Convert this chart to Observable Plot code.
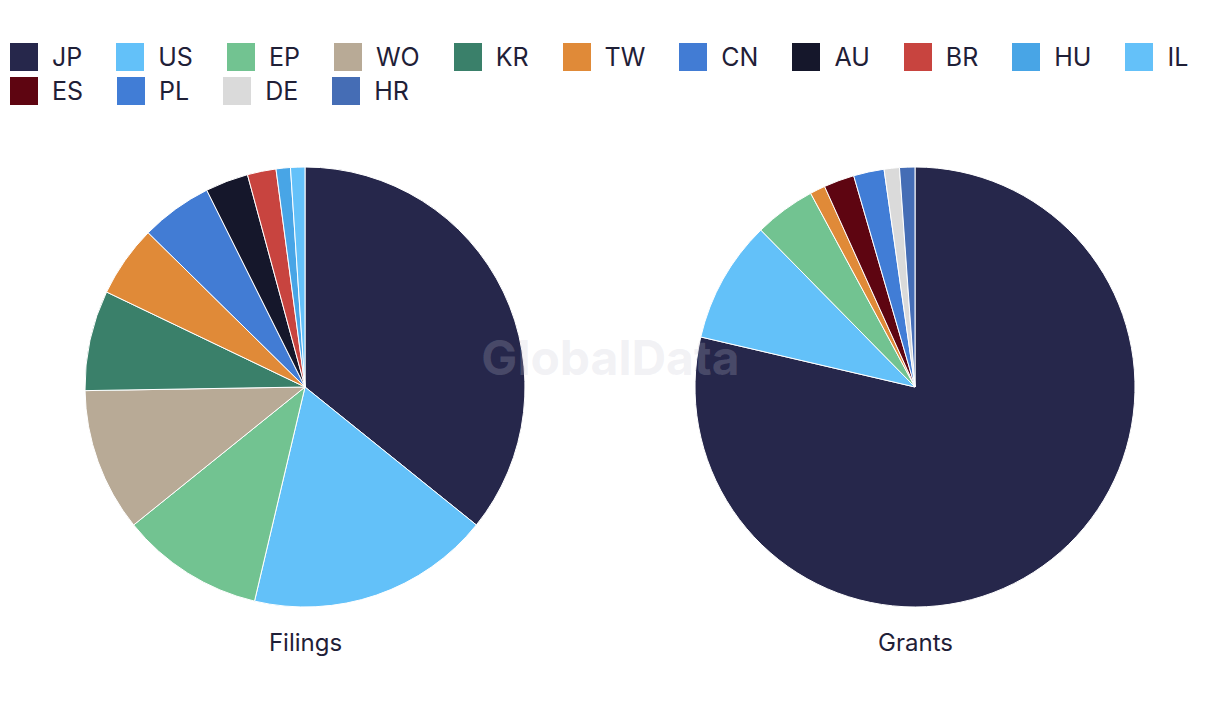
<!DOCTYPE html>
<html>
<head>
<meta charset="utf-8">
<script src="https://cdn.jsdelivr.net/npm/d3@7"></script>
<script src="https://cdn.jsdelivr.net/npm/@observablehq/plot@0.6"></script>
<style>
  body { margin: 0; background: #ffffff; font-family: Inter, "Noto Sans", sans-serif; }
  #legend { padding: 43px 0 0 10px; height: 67px; width: 1210px; overflow: hidden; }
  #legend .leg-swatches { margin: 0 !important; }
  #legend .leg-swatches-wrap { row-gap: 6px; column-gap: 34px; min-height: 0 !important; align-items: flex-start !important; }
  #legend .leg-swatches-wrap .leg-swatch { margin-right: 0 !important; height: 28px; line-height: 28px; }
  #legend .leg-swatch > svg { margin-right: 14px !important; }
</style>
</head>
<body>
<div id="legend"></div>
<div id="chart"></div>
<script>
// ---- data ----
const codes = ["JP","US","EP","WO","KR","TW","CN","AU","BR","HU","IL","ES","PL","DE","HR"];
const colors = ["#26274b","#63c1f9","#72c391","#b8aa96","#3a806a","#e08a38","#427cd4","#15172b","#c8443f","#48a5e6","#64c1f9","#5e0511","#417dd6","#dadada","#456db5"];
const panels = ["Filings","Grants"];
const filingCodes = ["JP","US","EP","WO","KR","TW","CN","AU","BR","HU","IL"];
const filingValues = [34,17,10,10,7,5,5,3,2,1,1];
const grantCodes = ["JP","US","EP","TW","ES","PL","DE","HR"];
const grantValues = [70,8,4,1,2,2,1,1];
const watermark = "GlobalData";

const rows = [];
filingCodes.forEach((c, i) => rows.push({panel: "Filings", code: c, value: filingValues[i]}));
grantCodes.forEach((c, i) => rows.push({panel: "Grants", code: c, value: grantValues[i]}));

const textColor = "#1f2037";
const colorScale = Plot.scale({color: {type: "ordinal", domain: codes, range: colors}});

// ---- legend ----
const legend = Plot.legend({
  color: {type: "ordinal", domain: codes, range: colors},
  legend: "swatches",
  swatchWidth: 28,
  swatchHeight: 28,
  className: "leg",
  style: {fontFamily: "Inter, sans-serif", fontSize: "25px", color: textColor}
});
document.getElementById("legend").appendChild(legend);

// ---- pie mark ----
function pieMark(...args) {
  const scales = args.find(a => a && typeof a.x === "function");
  const dims = args.find(a => a && a.marginTop !== undefined && a.height !== undefined);
  const r = (dims.height - dims.marginTop - dims.marginBottom) / 2;
  const cy = dims.marginTop + r;
  const arc = d3.arc().innerRadius(0).outerRadius(r);
  const g = d3.create("svg:g");
  const bw = scales.x.bandwidth ? scales.x.bandwidth() : 0;
  for (const p of panels) {
    const cx = scales.x(p) + bw / 2;
    const data = rows.filter(d => d.panel === p);
    const arcs = d3.pie().sort(null).value(d => d.value)(data);
    g.append("g")
      .attr("transform", `translate(${cx},${cy})`)
      .selectAll("path")
      .data(arcs)
      .join("path")
      .attr("d", arc)
      .attr("fill", d => colorScale.apply(d.data.code))
      .attr("stroke", "#ffffff")
      .attr("stroke-width", 1)
      .attr("stroke-linejoin", "round");
  }
  return g.node();
}

const chart = Plot.plot({
  width: 1220,
  height: 610,
  marginLeft: 0,
  marginRight: 0,
  marginTop: 57,
  marginBottom: 113,
  style: {fontFamily: "Inter, sans-serif", background: "#ffffff"},
  x: {type: "band", domain: panels, padding: 0, axis: null},
  marks: [
    pieMark,
    Plot.text(panels, {x: d => d, text: d => d, frameAnchor: "bottom", dy: 36, lineAnchor: "middle", fontSize: 24, fill: textColor}),
    Plot.text([watermark], {frameAnchor: "middle", text: d => d, dy: -28, fontSize: 48, fontWeight: 700, fill: "#c4c4d4", fillOpacity: 0.22})
  ]
});
document.getElementById("chart").appendChild(chart);
</script>
</body>
</html>
